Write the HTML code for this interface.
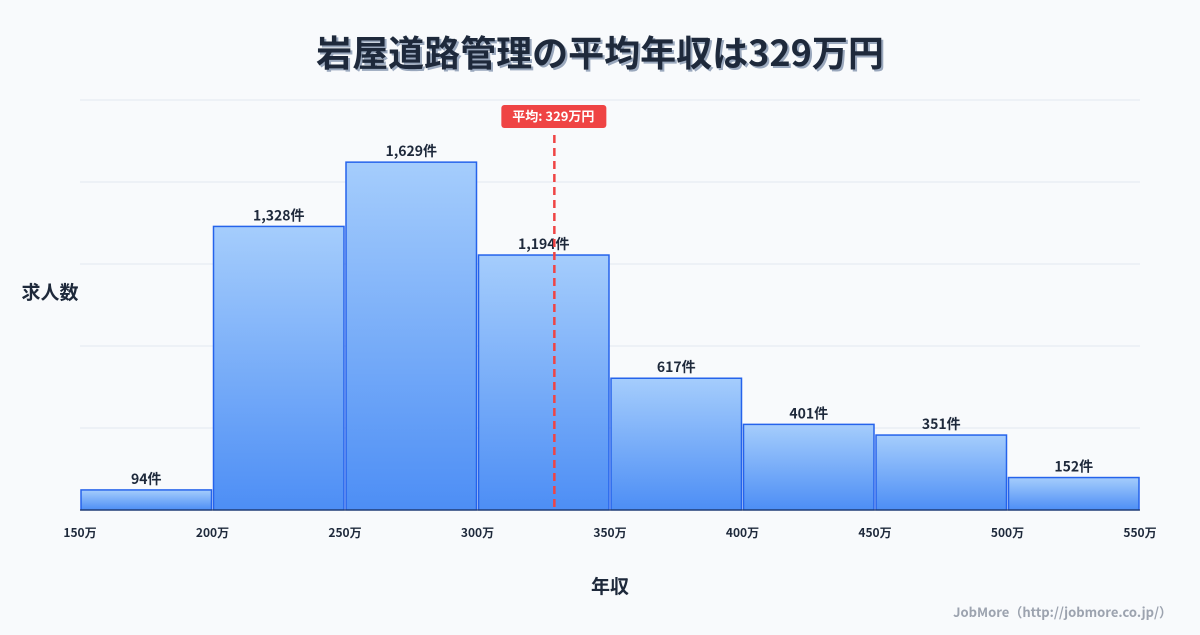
<!DOCTYPE html>
<html><head><meta charset="utf-8"><style>
body{margin:0;background:#f8fafc;width:1200px;height:630px;overflow:hidden;font-family:"Liberation Sans","Noto Sans CJK JP",sans-serif}
</style></head><body>
<svg id="c" width="1200" height="630" xmlns="http://www.w3.org/2000/svg">
<defs><linearGradient id="g" x1="0" y1="0" x2="0" y2="1"><stop offset="0" stop-color="#a5cdfc"/><stop offset="1" stop-color="#4d8ef5"/></linearGradient></defs>
<rect width="1200" height="630" fill="#f8fafc"/>
<text x="602" y="68" text-anchor="middle" font-size="36" font-weight="bold" fill="#9aa8bd" font-family="Noto Sans CJK JP,sans-serif">岩屋道路管理の平均年収は329万円</text>
<text x="600" y="66" text-anchor="middle" font-size="36" font-weight="bold" fill="#1e293b" font-family="Noto Sans CJK JP,sans-serif">岩屋道路管理の平均年収は329万円</text>
<g id="grid"></g><g id="bars"></g><g id="xt"></g>
<text x="50" y="299" text-anchor="middle" font-size="19" font-weight="bold" fill="#1e293b" font-family="Noto Sans CJK JP,sans-serif">求人数</text>
<text x="610" y="593" text-anchor="middle" font-size="19" font-weight="bold" fill="#1e293b" font-family="Noto Sans CJK JP,sans-serif">年収</text>
<text x="1172" y="617" text-anchor="end" font-size="13" font-weight="bold" fill="#9ca3af" font-family="Noto Sans CJK JP,sans-serif">JobMore（http://jobmore.co.jp/）</text>
<g id="mean"></g>
</svg>
<script>
const binStarts=[150,200,250,300,350,400,450,500];
const counts=[94,1328,1629,1194,617,401,351,152];
const xTicks=[150,200,250,300,350,400,450,500,550];
const meanValue=329;
const yMax=1920, yStep=384;
const NS='http://www.w3.org/2000/svg';
const x=v=>80+(v-150)*(1060/400);
const y=v=>510-v*(410/yMax);
function mk(t,a,p,txt){const e=document.createElementNS(NS,t);for(const k in a)e.setAttribute(k,a[k]);if(txt!=null)e.textContent=txt;document.getElementById(p).appendChild(e);return e;}
for(let v=yStep;v<=yMax;v+=yStep){const l=mk('line',{x1:80,x2:1140,y1:y(v),y2:y(v),stroke:'#e2e8f0','stroke-width':1},'grid');

}
binStarts.forEach((b,i)=>{const x0=x(b)+1,x1=x(b+50)-1;
const r=mk('rect',{x:x0,y:y(counts[i]),width:x1-x0,height:510-y(counts[i]),fill:'url(#g)',stroke:'#2563eb','stroke-width':1.5},'bars');


const t=mk('text',{x:(x0+x1)/2,y:y(counts[i])-6,'text-anchor':'middle','font-size':14,'font-weight':'bold',fill:'#1e293b','font-family':'Noto Sans CJK JP,sans-serif'},'bars',counts[i].toLocaleString('en-US')+'件');

});
const ax=mk('line',{x1:80,x2:1140,y1:510,y2:510,stroke:'#1e293b','stroke-width':1},'xt');


xTicks.forEach(v=>{const t=mk('text',{x:x(v),y:537,'text-anchor':'middle','font-size':12,'font-weight':'bold',fill:'#1e293b','font-family':'Noto Sans CJK JP,sans-serif'},'xt',v+'万');

});
const mx=x(meanValue);
const ml=mk('line',{x1:mx,x2:mx,y1:135,y2:510,stroke:'#ef4444','stroke-width':2.5,'stroke-dasharray':'8,5'},'mean');


const mb=mk('rect',{x:mx-53,y:105,width:105,height:23,rx:3,fill:'#ef4444'},'mean');


const mt=mk('text',{x:mx-1,y:121,'text-anchor':'middle','font-size':13,'font-weight':'bold',fill:'#fff','font-family':'Noto Sans CJK JP,sans-serif'},'mean','平均: '+meanValue+'万円');


</script>
</body></html>
